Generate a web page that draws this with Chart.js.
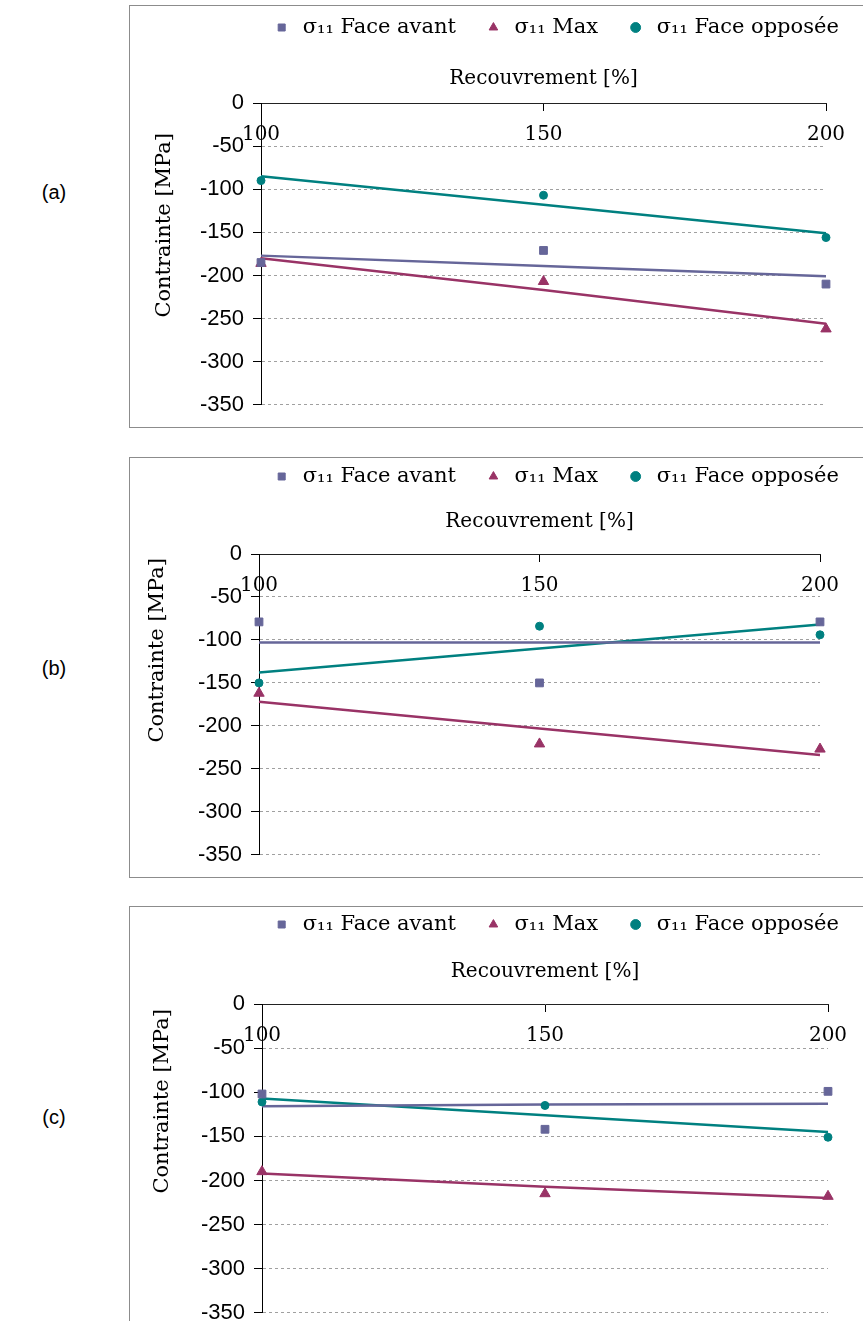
<!DOCTYPE html>
<html lang="fr">
<head>
<meta charset="utf-8">
<title>Contrainte σ11 en fonction du recouvrement</title>
<script src="https://cdn.jsdelivr.net/npm/chart.js@4.4.1/dist/chart.umd.min.js"></script>
<style>
    html, body { margin: 0; padding: 0; background: #fff; overflow: hidden; }
    body { width: 863px; height: 1321px; position: relative; }
    .panel { position: absolute; left: 129px; width: 870px; border: 1px solid #8c8c8c; box-sizing: border-box; background: #fff; }
    .panel .wrap { position: absolute; left: 0; top: 0; width: 850px; height: 100%; }
    .tag { position: absolute; left: 29px; width: 50px; height: 24px; line-height: 24px; text-align: center;
           font-family: "Liberation Sans", Arial, sans-serif; font-size: 20px; color: #000; }
</style>
</head>
<body>

<div class="tag" style="top:180px">(a)</div>
<div class="tag" style="top:656px">(b)</div>
<div class="tag" style="top:1105px">(c)</div>

<div class="panel" style="top:5px;height:423px"><div class="wrap"><canvas id="chartA"></canvas></div></div>
<div class="panel" style="top:457px;height:421px"><div class="wrap"><canvas id="chartB"></canvas></div></div>
<div class="panel" style="top:906px;height:430px"><div class="wrap"><canvas id="chartC"></canvas></div></div>

<script>
// categories (x) and y tick labels
const recouvrement = ['100', '150', '200'];
const contrainteTicks = [0, -50, -100, -150, -200, -250, -300, -350];
const seriesNames = ['σ₁₁ Face avant', 'σ₁₁ Max', 'σ₁₁ Face opposée'];

// (a) mesures
const faceAvantA = [-185, -171, -210];
const maxA = [-186, -207, -262];
const opposeeA = [-90, -107, -156];
// (a) courbes de tendance
const trendFaceAvantA = [-177, -189, -201];
const trendMaxA = [-180, -217, -256];
const trendOpposeeA = [-85, -118, -151];

// (b) mesures
const faceAvantB = [-79, -150, -79];
const maxB = [-162, -221, -227];
const opposeeB = [-150, -84, -94];
// (b) courbes de tendance
const trendFaceAvantB = [-103, -103, -103];
const trendMaxB = [-172, -203, -234];
const trendOpposeeB = [-138, -110, -82];

// (c) mesures
const faceAvantC = [-102, -142, -99];
const maxC = [-190, -215, -218];
const opposeeC = [-111, -115, -151];
// (c) courbes de tendance
const trendFaceAvantC = [-116, -114, -113];
const trendMaxC = [-192, -207, -220];
const trendOpposeeC = [-107, -126, -145];

const colors = ['#666699', '#993366', '#008080'];
const pointStyles = ['rect', 'triangle', 'circle'];
const pointRadii = [5.5, 6, 4];

const CANVAS_W = 850;

// titre de l'axe Y, dessine a cote de l'axe
const yTitlePlugin = {
    id: 'yTitle',
    afterDraw(chart, args, opts) {
        const ctx = chart.ctx;
        ctx.save();
        ctx.translate(opts.x, chart.chartArea.top + opts.offset);
        ctx.rotate(-Math.PI / 2);
        ctx.font = '21px "DejaVu Serif", serif';
        ctx.fillStyle = '#000';
        ctx.textAlign = 'right';
        ctx.textBaseline = 'middle';
        ctx.fillText(opts.text, 0, 0);
        ctx.restore();
    }
};

function makeChart(id, points, trends, lay) {
    const datasets = [];
    points.forEach(function (vals, i) {
        datasets.push({
            label: seriesNames[i],
            data: vals,
            showLine: false,
            pointStyle: pointStyles[i],
            pointRadius: pointRadii[i],
            pointBackgroundColor: colors[i],
            pointBorderColor: colors[i],
            pointBorderWidth: 1,
            backgroundColor: colors[i],
            borderColor: colors[i],
            clip: false,
            order: 0
        });
    });
    trends.forEach(function (vals, i) {
        datasets.push({
            label: 'tendance',
            data: vals,
            borderColor: colors[i],
            borderWidth: 2.5,
            pointRadius: 0,
            tension: 0,
            fill: false,
            order: 1
        });
    });

    return new Chart(document.getElementById(id), {
        type: 'line',
        data: { labels: recouvrement, datasets: datasets },
        options: {
            responsive: true,
            maintainAspectRatio: false,
            animation: false,
            events: [],
            layout: { padding: { top: lay.padTop, left: 0, right: 0, bottom: lay.padBottom } },
            scales: {
                x: {
                    type: 'category',
                    offset: false,
                    position: { y: 0 },
                    afterFit: function (s) { s.height = 0; s.paddingRight = CANVAS_W - lay.xRight; },
                    ticks: { font: { family: '"DejaVu Serif", serif', size: 20 }, color: '#000', padding: 13, maxRotation: 0, autoSkip: false },
                    grid: { drawOnChartArea: false, drawTicks: true, tickLength: 7, tickColor: '#000' },
                    border: { color: '#222', width: 1 }
                },
                y: {
                    min: contrainteTicks[contrainteTicks.length - 1],
                    max: contrainteTicks[0],
                    afterBuildTicks: function (s) { s.ticks = contrainteTicks.map(function (v) { return { value: v }; }); },
                    afterFit: function (s) { s.width = lay.yWidth; },
                    ticks: { font: { family: '"Liberation Sans", Arial, sans-serif', size: 22 }, color: '#000', padding: 9 },
                    grid: {
                        color: function (c) { return c.tick && c.tick.value === 0 ? 'rgba(0,0,0,0)' : '#a0a0a0'; },
                        tickColor: '#000',
                        tickLength: 8,
                        lineWidth: 1
                    },
                    border: { color: '#000', width: 1, dash: [3, 3] }
                }
            },
            plugins: {
                legend: {
                    display: true,
                    position: 'top',
                    fullSize: true,
                    weight: 3000,
                    labels: {
                        usePointStyle: true,
                        boxWidth: 21,
                        boxHeight: 7,
                        padding: 27,
                        color: '#000',
                        font: { family: '"DejaVu Serif", serif', size: 21 },
                        filter: function (item) { return item.datasetIndex < 3; }
                    }
                },
                title: {
                    display: true,
                    position: 'top',
                    fullSize: false,
                    text: 'Recouvrement [%]',
                    color: '#000',
                    font: { family: '"DejaVu Serif", serif', size: 20, weight: 'normal' },
                    padding: lay.titlePad
                },
                tooltip: { enabled: false },
                yTitle: { text: 'Contrainte [MPa]', x: lay.yTitleX, offset: lay.yTitleOffset }
            }
        },
        plugins: [yTitlePlugin]
    });
}

makeChart('chartA',
    [faceAvantA, maxA, opposeeA],
    [trendFaceAvantA, trendMaxA, trendOpposeeA],
    { yWidth: 131, xRight: 696, padTop: -16, padBottom: 17, titlePad: { top: 19, bottom: 12 }, yTitleX: 35, yTitleOffset: 30 });

makeChart('chartB',
    [faceAvantB, maxB, opposeeB],
    [trendFaceAvantB, trendMaxB, trendOpposeeB],
    { yWidth: 129, xRight: 690, padTop: -19, padBottom: 18, titlePad: { top: 13, bottom: 20 }, yTitleX: 28, yTitleOffset: 4 });

makeChart('chartC',
    [faceAvantC, maxC, opposeeC],
    [trendFaceAvantC, trendMaxC, trendOpposeeC],
    { yWidth: 132, xRight: 698, padTop: -20, padBottom: 20, titlePad: { top: 15, bottom: 20 }, yTitleX: 33, yTitleOffset: 5 });
</script>
</body>
</html>
